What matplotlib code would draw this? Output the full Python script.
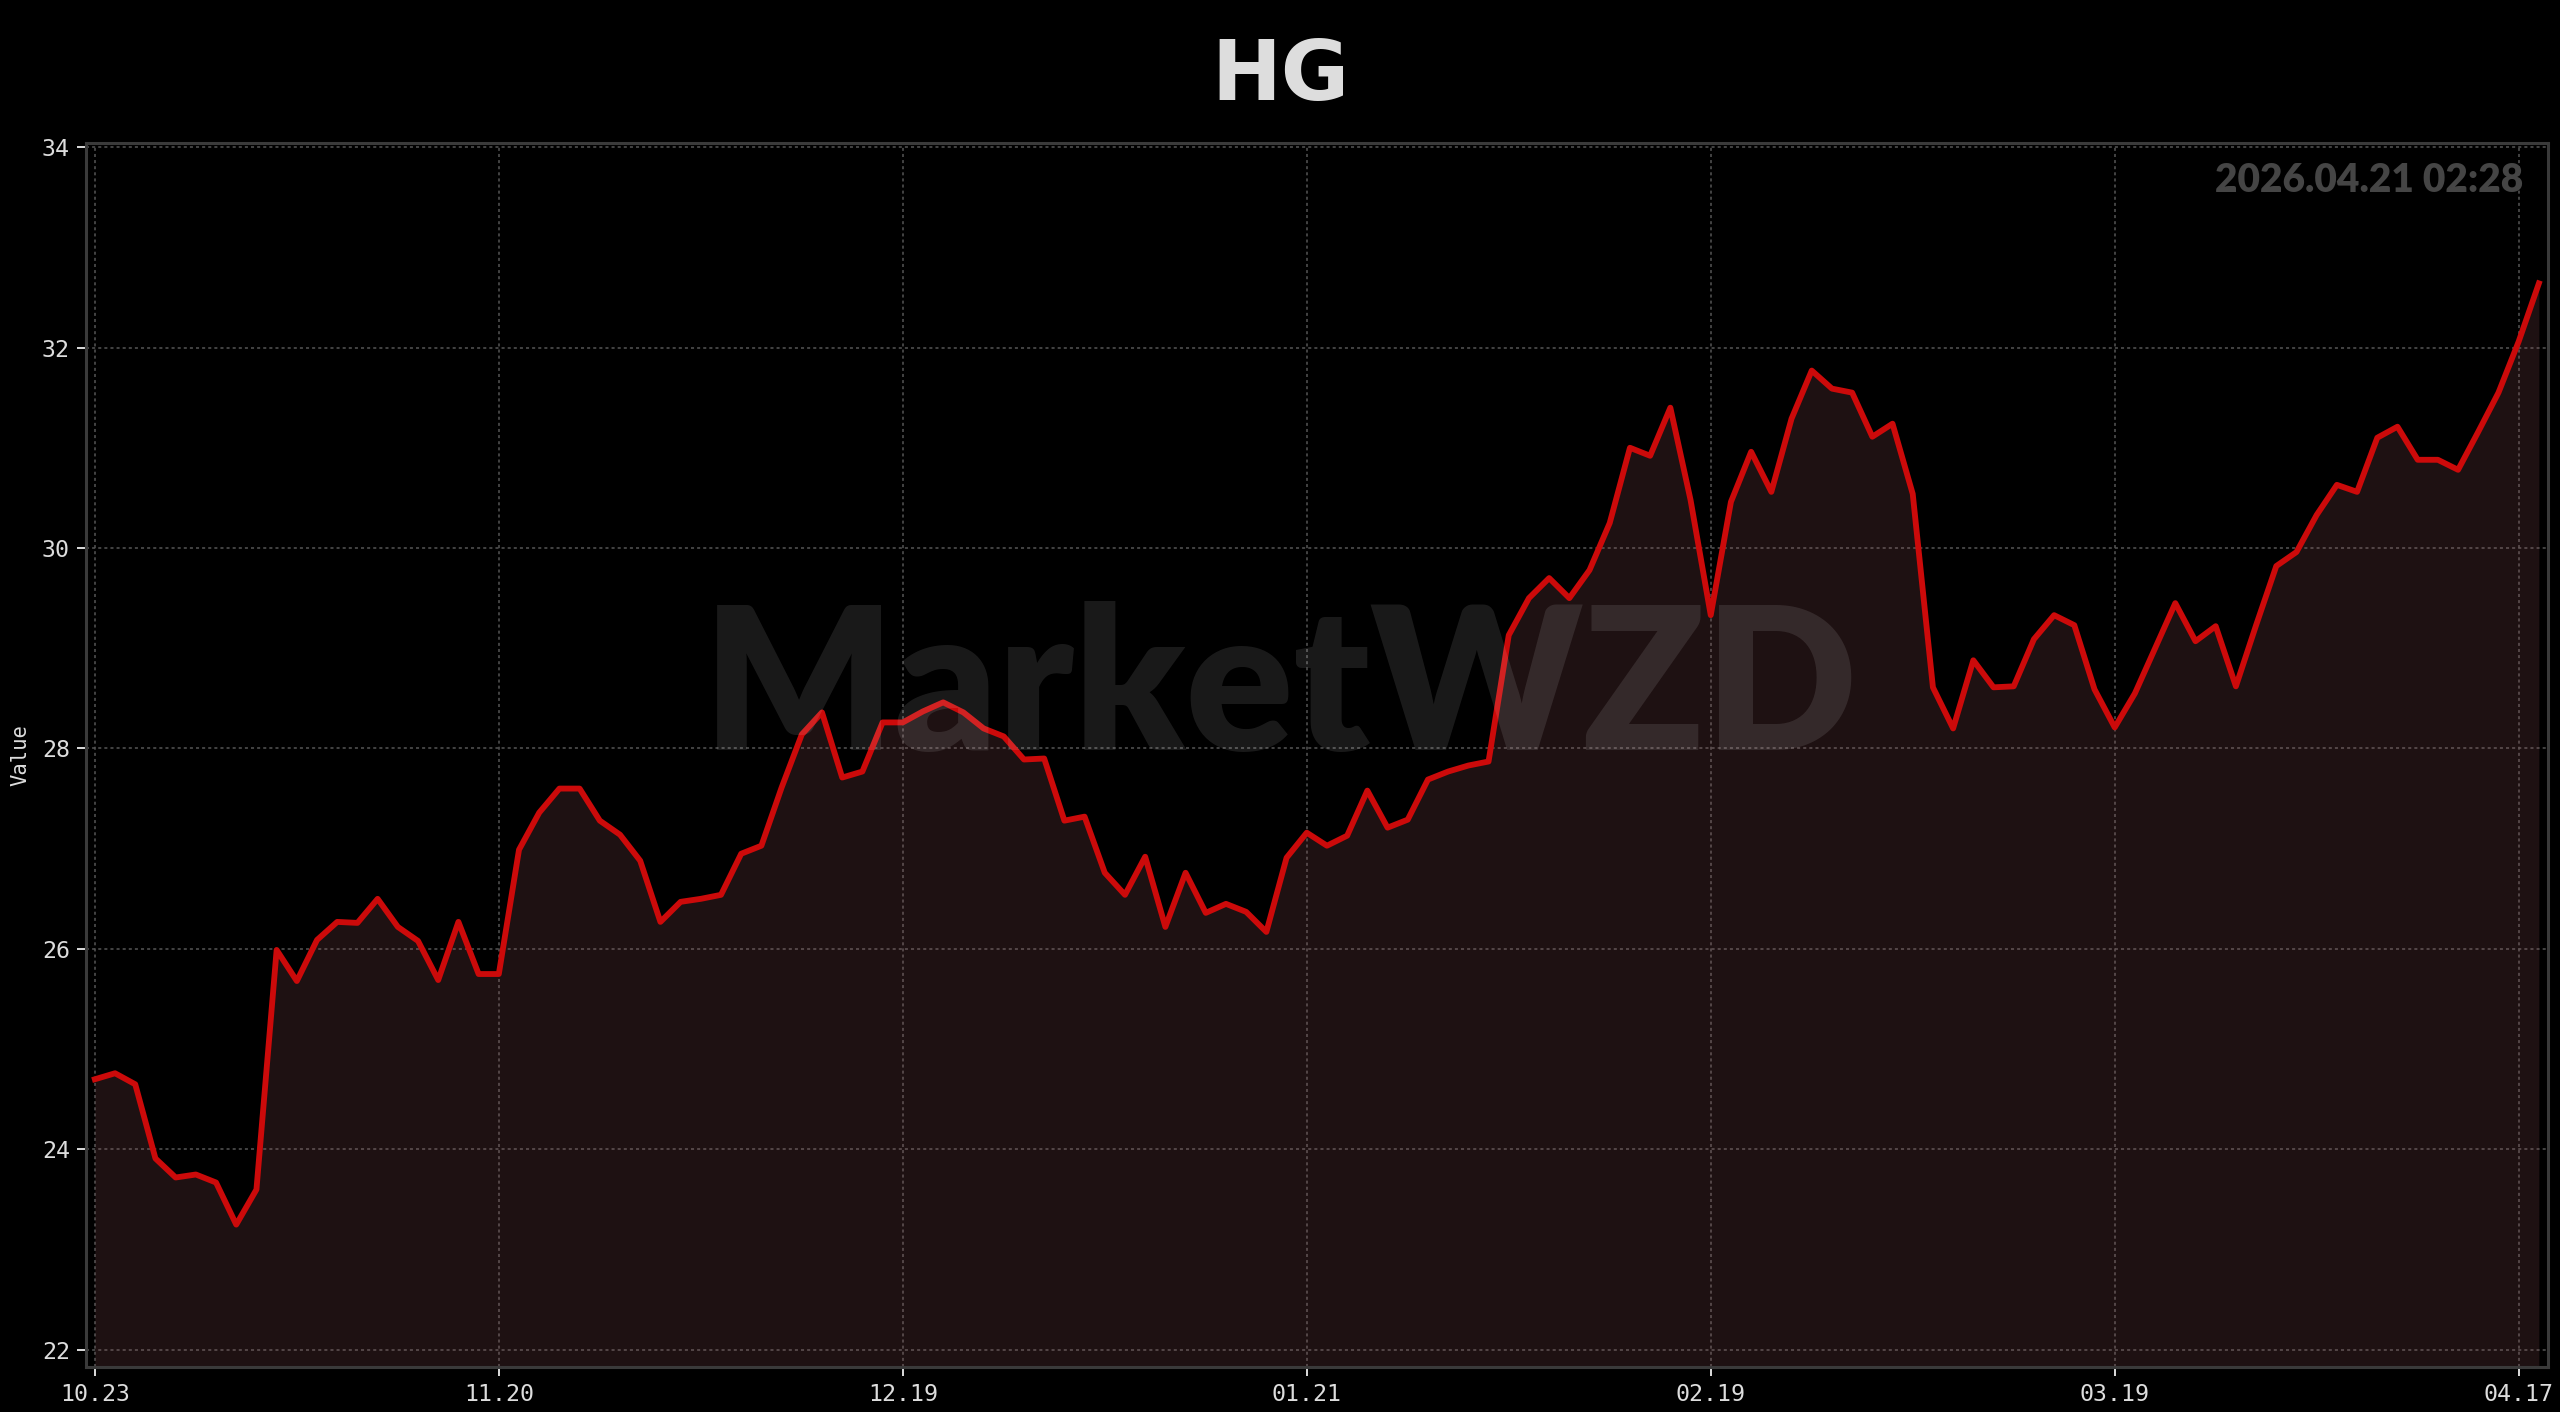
import matplotlib
matplotlib.use("Agg")
import matplotlib.pyplot as plt
import numpy as np

# HG daily closes, one point per trading day
values = [
    24.70, 24.76, 24.65, 23.91, 23.72, 23.75, 23.67, 23.25, 23.60, 25.99,
    25.68, 26.09, 26.27, 26.26, 26.50, 26.22, 26.08, 25.69, 26.27, 25.75,
    25.75, 26.99, 27.36, 27.60, 27.60, 27.28, 27.14, 26.88, 26.27, 26.47,
    26.50, 26.54, 26.95, 27.03, 27.61, 28.14, 28.36, 27.71, 27.77, 28.26,
    28.26, 28.37, 28.46, 28.36, 28.20, 28.12, 27.89, 27.90, 27.28, 27.32,
    26.76, 26.54, 26.92, 26.22, 26.76, 26.36, 26.45, 26.37, 26.17, 26.91,
    27.16, 27.03, 27.13, 27.58, 27.21, 27.29, 27.69, 27.77, 27.83, 27.87,
    29.13, 29.50, 29.70, 29.50, 29.78, 30.25, 31.00, 30.92, 31.40, 30.48,
    29.33, 30.46, 30.96, 30.56, 31.29, 31.77, 31.59, 31.55, 31.11, 31.24,
    30.54, 28.61, 28.20, 28.88, 28.61, 28.62, 29.09, 29.33, 29.23, 28.59,
    28.21, 28.55, 29.00, 29.45, 29.07, 29.22, 28.62, 29.23, 29.82, 29.96,
    30.33, 30.63, 30.56, 31.10, 31.21, 30.88, 30.88, 30.78, 31.16, 31.55,
    32.06, 32.64,
]
tick_idx = [0, 20, 40, 60, 80, 100, 120]
tick_labels = ["10.23", "11.20", "12.19", "01.21", "02.19", "03.19", "04.17"]
y_ticks = [22, 24, 26, 28, 30, 32, 34]

title = "HG"
watermark = "MarketWZD"
stamp = "2026.04.21 02:28"

x = np.arange(len(values))
y = np.array(values)

fig = plt.figure(figsize=(12.8, 7.06), dpi=200, facecolor="black")
ax = fig.add_axes([0.0335, 0.0319, 0.9618, 0.8668])
ax.set_facecolor("black")

ymin, ymax = 21.83, 34.04
ax.set_xlim(-0.45, 121.45)
ax.set_ylim(ymin, ymax)

ax.set_axisbelow(True)
ax.grid(True, color="#555555", linestyle=(0, (2, 2)), linewidth=0.55)

ax.fill_between(x, y, ymin, color="#9a575c", alpha=0.2, linewidth=0, zorder=1)
ax.plot(x, y, color="#cc0a0a", linewidth=2.1, zorder=3)

ax.set_xticks(tick_idx)
ax.set_xticklabels(tick_labels)
ax.set_yticks(y_ticks)
for lab in ax.get_xticklabels() + ax.get_yticklabels():
    lab.set_family("DejaVu Sans Mono")
ax.tick_params(colors="#dddddd", labelsize=8.4, length=3.2, width=0.7, pad=2.5)
ax.set_ylabel("Value", color="#dddddd", fontsize=7.4, family="DejaVu Sans Mono", labelpad=4)

for s in ax.spines.values():
    s.set_color("#3a3a3a")
    s.set_linewidth(1.1)

fig.text(0.5, 0.946, title, ha="center", va="center", color="#dddddd",
         fontsize=30, fontweight="bold", family="DejaVu Sans")
ax.text(0.9898, 0.969, stamp, transform=ax.transAxes, ha="right", va="center",
        color="#454545", fontsize=14, fontweight="heavy", family="Lato")
fig.text(0.5, 0.510, watermark, ha="center", va="center", color="white", alpha=0.1,
         fontsize=72, fontweight="heavy", family="Lato", zorder=10)

fig.savefig("out.png", dpi=200, facecolor="black")
